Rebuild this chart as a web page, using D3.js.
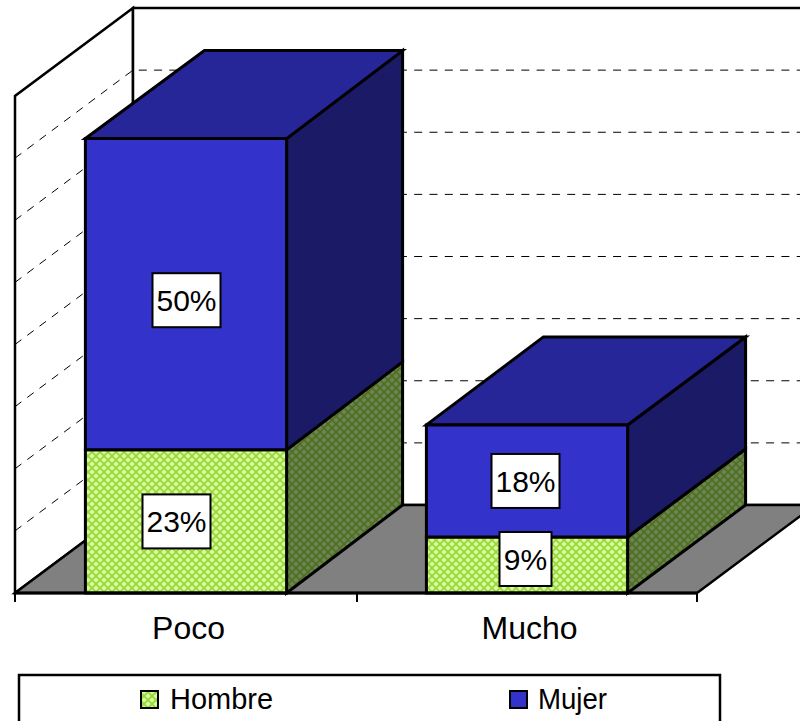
<!DOCTYPE html>
<html><head><meta charset="utf-8">
<script src="https://cdn.jsdelivr.net/npm/d3@7"></script>
<style>html,body{margin:0;padding:0;background:#fff}svg{display:block}text{font-family:"Liberation Sans",Arial,sans-serif;fill:#000}</style>
</head><body><div id="chart"></div>
<script>
const categories = ["Poco", "Mucho"];
const hombre = [23, 9];
const mujer = [50, 18];
const seriesNames = ["Hombre", "Mujer"];
const gridValues = [10, 20, 30, 40, 50, 60, 70];
const W = 800, H = 721;
const dx = 118, dy = -88;
const svg = d3.select("#chart").append("svg").attr("width", W).attr("height", H);
const x = d3.scaleBand().domain(categories).range([15, 697]).paddingInner(0.41).paddingOuter(0.205);
const y = d3.scaleLinear().domain([0, 80]).range([593, 95]);
const yWall = d3.scaleLinear().domain([0, 80]).range([593, 96]);
const line = d3.line();
const defs = svg.append("defs");
function hatch(id, bg, fg) {
  const p = defs.append("pattern").attr("id", id).attr("patternUnits", "userSpaceOnUse").attr("width", 8).attr("height", 8);
  p.append("rect").attr("width", 8).attr("height", 8).attr("fill", bg);
  p.append("path").attr("d", "M0,0L8,8M8,0L0,8").attr("stroke", fg).attr("stroke-width", 1.6);
}
hatch("g", "#CCFF99", "#A0D238");
hatch("gs", "#6B8552", "#4F6E22");
const poly = (pts, fill, sw = 3) => svg.append("path").attr("d", line(pts) + "Z").attr("fill", fill).attr("stroke", "#000").attr("stroke-width", sw).attr("stroke-linejoin", "miter");
// walls and floor
poly([[15, yWall(0)], [15, yWall(80)], [15 + dx, yWall(80) + dy], [15 + dx, yWall(0) + dy]], "#fff", 2.5);
poly([[15 + dx, yWall(80) + dy], [900, yWall(80) + dy], [900, yWall(0) + dy], [15 + dx, yWall(0) + dy]], "#fff", 2.5);
poly([[15, yWall(0)], [697, yWall(0)], [697 + dx, yWall(0) + dy], [15 + dx, yWall(0) + dy]], "#808080", 2.5);
// gridlines
gridValues.forEach(v => {
  svg.append("path").attr("d", line([[15, yWall(v)], [15 + dx, yWall(v) + dy], [815, yWall(v) + dy]]))
    .attr("fill", "none").attr("stroke", "#000").attr("stroke-width", 1).attr("stroke-dasharray", "8,7.3");
});
// bars
const depthL = [119, 117], depthR = [116, 118];
const stacks = categories.map((c, i) => [
  { a: 0, b: hombre[i], f: "url(#g)", s: "url(#gs)", t: "#99CC33" },
  { a: hombre[i], b: hombre[i] + mujer[i], f: "#3333CC", s: "#1A1A66", t: "#262699" }
]);
categories.forEach((c, i) => {
  const x0 = x(c) + 0.5, x1 = x0 + x.bandwidth();
  stacks[i].forEach((d, k) => {
    poly([[x1, y(d.a)], [x1 + depthR[i], y(d.a) + dy], [x1 + depthR[i], y(d.b) + dy], [x1, y(d.b)]], d.s);
    if (k === 1) poly([[x0, y(d.b)], [x0 + depthL[i], y(d.b) + dy], [x1 + depthR[i], y(d.b) + dy], [x1, y(d.b)]], d.t);
    poly([[x0, y(d.a)], [x1, y(d.a)], [x1, y(d.b)], [x0, y(d.b)]], d.f);
  });
});
// axis line and ticks
svg.append("path").attr("d", "M15," + y(0) + "H697").attr("stroke", "#000").attr("stroke-width", 3);
[15, 357, 697].forEach(t => svg.append("path").attr("d", `M${t},${y(0)}V602`).attr("stroke", "#000").attr("stroke-width", 2));
categories.forEach(c => svg.append("text").attr("x", x(c) + x.bandwidth() / 2 + 3).attr("y", 639).attr("text-anchor", "middle").attr("font-size", 32).text(c));
// data labels: nudged off the segment centres the way the original placed them
const nudgeX = [[-9, 1], [-1, -1]], nudgeY = [[0, 6], [-6, 0]];
categories.forEach((c, i) => stacks[i].forEach((d, k) => {
  const v = k ? mujer[i] : hombre[i];
  const cx = x(c) + x.bandwidth() / 2 + nudgeX[i][k];
  const cy = y((d.a + d.b) / 2) + nudgeY[i][k];
  const w = v < 10 ? 52 : 68;
  svg.append("rect").attr("x", cx - w / 2).attr("y", cy - 27).attr("width", w).attr("height", 54).attr("fill", "#fff").attr("stroke", "#000").attr("stroke-width", 2);
  svg.append("text").attr("x", cx).attr("y", cy + 11).attr("text-anchor", "middle").attr("font-size", 30).text(v + "%");
}));
// legend
svg.append("rect").attr("x", 19).attr("y", 675).attr("width", 701).attr("height", 60).attr("fill", "#fff").attr("stroke", "#000").attr("stroke-width", 2.5);
const lx = [141, 510], lfill = ["url(#g)", "#3333CC"], lw = [103, 69];
seriesNames.forEach((s, i) => {
  svg.append("rect").attr("x", lx[i]).attr("y", 691).attr("width", 17).attr("height", 17).attr("fill", lfill[i]).attr("stroke", "#000").attr("stroke-width", 2);
  svg.append("text").attr("x", lx[i] + (i ? 28 : 29)).attr("y", 709).attr("font-size", 30).attr("textLength", lw[i]).attr("lengthAdjust", "spacingAndGlyphs").text(s);
});
</script></body></html>
